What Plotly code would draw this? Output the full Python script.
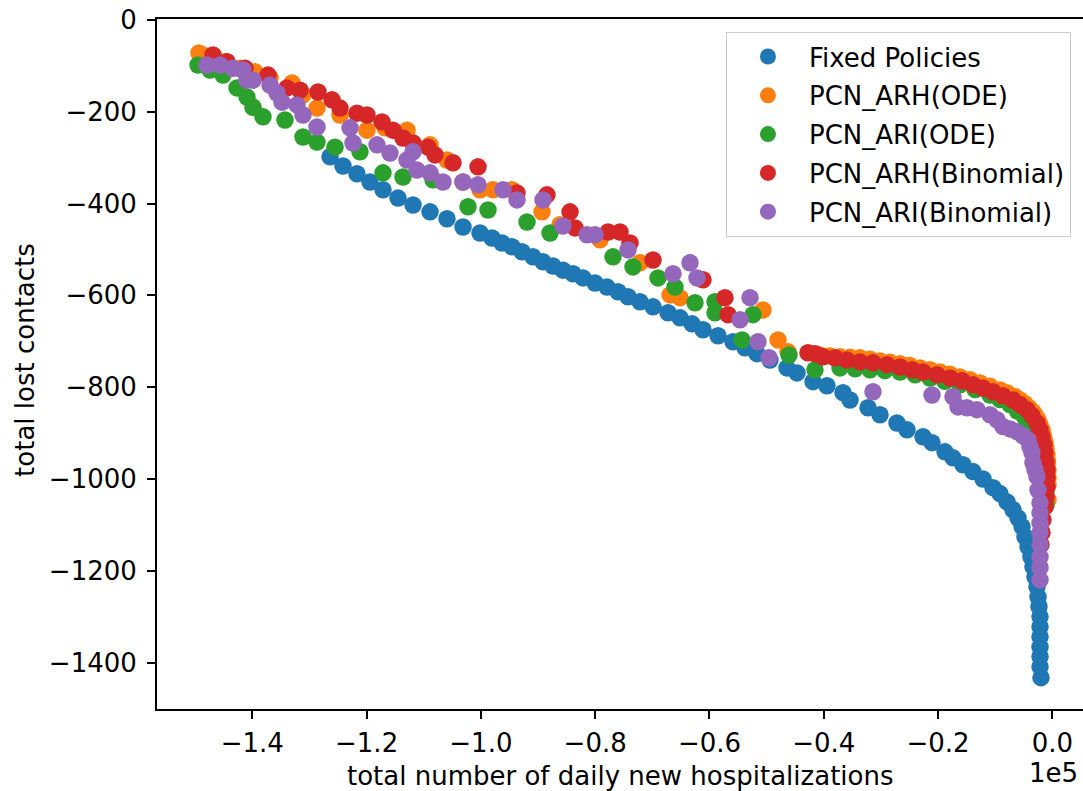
import plotly.graph_objects as go

# ---------------- data (x: total number of daily new hospitalizations, y: total lost contacts)
fixed_x = [-126400, -124130, -121680, -119400, -117130, -114500, -111880, -108900, -105930, -103130,
           -100150, -98050, -96300, -94550, -92800, -90880, -89130, -87380, -85630, -83880,
           -82130, -80030, -77930, -76000, -74250, -72150, -69880, -67250, -65150, -63050,
           -61130, -58500, -55880, -53780, -51680, -49400, -46430, -44680, -41880, -39430,
           -36630, -35400, -32250, -30150, -27180, -25430, -22630, -21050, -18780, -17380,
           -15630, -13880, -12130, -10380, -9150, -7930, -6880, -6000, -5300, -4780,
           -4250, -3730, -3380, -3030, -2680, -2500, -2330, -2150, -2150, -2150,
           -2150, -2150, -2150, -1980]
fixed_y = [-298, -318, -335, -353, -370, -388, -403, -418, -433, -451,
           -464, -475, -486, -494, -505, -516, -527, -536, -545, -553,
           -562, -573, -582, -592, -603, -614, -625, -638, -649, -662,
           -675, -688, -701, -714, -727, -741, -758, -769, -788, -797,
           -812, -828, -845, -860, -878, -893, -908, -921, -941, -954,
           -969, -984, -1000, -1019, -1032, -1050, -1067, -1085, -1104, -1126,
           -1148, -1170, -1191, -1213, -1235, -1257, -1278, -1300, -1322, -1344,
           -1366, -1387, -1409, -1433]

arh_ode_x = [-149330, -148280, -146880, -144780, -142150, -139530, -136900, -133050, -131130, -128680,
             -124650, -119930, -116780, -112930, -108900, -105930, -103130, -100150, -97880, -94550,
             -89300, -86150, -79150, -72150, -66900, -65150, -50630, -48000, -46250,
             -40650, -38900, -37150, -35400, -33650, -31900, -30150, -28400, -26650, -24900,
             -23150, -21400, -19650, -17900, -16150, -14400, -12650, -10900, -9150, -7840,
             -6530, -5650, -4780, -4080, -3380, -2940, -2500, -2150, -1800, -1540,
             -1280, -1100, -930, -840, -750, -750, -750, -750]
arh_ode_y = [-72, -78, -83, -91, -105, -113, -126, -137, -163, -192,
             -207, -240, -235, -240, -272, -305, -353, -370, -370, -370,
             -418, -446, -479, -529, -599, -605, -632, -697, -723,
             -730, -732, -734, -735, -736, -739, -743, -746, -749, -753,
             -758, -762, -767, -772, -778, -784, -791, -798, -806, -813,
             -821, -828, -836, -845, -854, -862, -871, -882, -893, -906,
             -919, -933, -947, -963, -980, -997, -1013, -1046]

ari_ode_x = [-149500, -147400, -145130, -142680, -140930, -139880, -138130, -134280, -131130, -128680,
             -125530, -121150, -117130, -113630, -108380, -102250, -98750, -91930, -87900, -76880,
             -73380, -69000, -66030, -62530, -59030, -59030, -54300, -52380, -46080, -41530,
             -37150, -34500, -31900, -29300, -26650, -24000, -21400, -18800, -16150, -13500,
             -10900, -9150, -7400, -6100, -4780, -3900, -3030, -2600, -2150, -1900,
             -1630, -1450, -1280, -1100, -1100]
ari_ode_y = [-98, -109, -120, -148, -168, -190, -211, -218, -255, -266,
             -277, -287, -333, -342, -348, -407, -414, -440, -464, -516,
             -538, -562, -582, -616, -614, -638, -697, -642, -730, -762,
             -758, -760, -762, -764, -767, -773, -780, -787, -795, -805,
             -817, -827, -838, -852, -867, -882, -897, -913, -930, -946,
             -963, -979, -995, -1028, -1056]

arh_bin_x = [-146880, -144430, -141280, -137250, -133930, -131650, -128500, -126050, -124650, -121680,
             -119930, -117300, -115380, -113630, -111880, -109250, -108030, -104880, -100500, -93680,
             -88430, -84400, -83530, -77750, -75650, -73900, -69880, -61130, -57280, -56750,
             -42760, -41530, -40130, -38030, -35930, -33650, -31380, -28930, -26650, -24550,
             -22630, -20180, -17900, -15800, -13880, -12130, -10380, -8630, -6880, -5650,
             -4430, -3550, -2680, -2150, -1800, -1450, -1280, -1100, -930, -930,
             -930, -1100, -1280, -1630, -1800, -1980]
arh_bin_y = [-76, -91, -105, -120, -148, -153, -157, -174, -192, -203,
             -207, -222, -240, -257, -268, -277, -294, -311, -320, -377,
             -381, -418, -453, -462, -462, -486, -523, -566, -605, -642,
             -725, -727, -734, -736, -741, -745, -747, -751, -756, -762,
             -767, -773, -780, -786, -795, -802, -810, -819, -828, -838,
             -849, -862, -878, -893, -908, -926, -943, -963, -980, -997,
             -1017, -1039, -1061, -1089, -1117, -1143]

ari_bin_x = [-147930, -145650, -143380, -141630, -140930, -139880, -136900, -135680, -134800, -132180,
             -131130, -128680, -122900, -122380, -118180, -115900, -112930, -111880, -111180, -108900,
             -106630, -103130, -100500, -96130, -93680, -89130, -85630, -81430, -80030, -74250,
             -66380, -63400, -62180, -54650, -52900, -51500, -49580,
             -31380, -21050, -17380, -16500, -14930, -13180, -10900, -9680, -8630, -7400,
             -6180, -5130, -4250, -3900, -3550, -3380, -3030, -2680, -2500, -2150,
             -2150, -2150, -2150, -2150, -2150, -2150, -2150]
ari_bin_y = [-98, -98, -105, -109, -131, -131, -142, -159, -179, -185,
             -207, -233, -235, -268, -272, -290, -305, -287, -327, -333,
             -353, -353, -359, -370, -392, -392, -449, -468, -468, -501,
             -553, -529, -562, -653, -605, -701, -736,
             -810, -817, -821, -843, -845, -849, -860, -871, -886, -891,
             -897, -906, -915, -930, -943, -965, -980, -995, -1024, -1052,
             -1074, -1096, -1117, -1143, -1170, -1193, -1220]

series_names = ["Fixed Policies", "PCN_ARH(ODE)", "PCN_ARI(ODE)", "PCN_ARH(Binomial)", "PCN_ARI(Binomial)"]
series_x = [fixed_x, arh_ode_x, ari_ode_x, arh_bin_x, ari_bin_x]
series_y = [fixed_y, arh_ode_y, ari_ode_y, arh_bin_y, ari_bin_y]
series_colors = ["#1f77b4", "#ff7f0e", "#2ca02c", "#d62728", "#9467bd"]

x_tickvals = [-140000, -120000, -100000, -80000, -60000, -40000, -20000, 0]
x_ticktext = ["\u22121.4", "\u22121.2", "\u22121.0", "\u22120.8", "\u22120.6", "\u22120.4", "\u22120.2", "0.0"]
y_tickvals = [0, -200, -400, -600, -800, -1000, -1200, -1400]
y_ticktext = ["0", "\u2212200", "\u2212400", "\u2212600", "\u2212800", "\u22121000", "\u22121200", "\u22121400"]

FONT = "DejaVu Sans"
FS = 26

fig = go.Figure()
for name, xs, ys, col in zip(series_names, series_x, series_y, series_colors):
    fig.add_trace(go.Scatter(
        x=xs, y=ys, mode="markers", name=name, legendgroup=name,
        marker=dict(color=col, size=17.5, line=dict(width=0)),
    ))

axis_common = dict(
    showgrid=False, zeroline=False, showline=True, linecolor="black", linewidth=2,
    ticks="outside", ticklen=8, tickwidth=2, tickcolor="black",
    tickfont=dict(family=FONT, size=FS, color="black"),
)
fig.update_xaxes(range=[-156680, 5373], tickmode="array", tickvals=x_tickvals, ticktext=x_ticktext,
                 mirror=True, ticklabelstandoff=2, **axis_common)
fig.update_yaxes(range=[-1501.3, 2.2], tickmode="array", tickvals=y_tickvals, ticktext=y_ticktext,
                 ticklabelstandoff=5, **axis_common)

fig.update_layout(
    width=1083, height=791,
    margin=dict(l=157, r=0, t=19, b=82, pad=0),
    paper_bgcolor="white", plot_bgcolor="white",
    font=dict(family=FONT, size=FS, color="black"),
    showlegend=True,
    legend=dict(
        x=0.987, y=0.981, xanchor="right", yanchor="top",
        bgcolor="rgba(255,255,255,0.8)", bordercolor="#cccccc", borderwidth=1,
        font=dict(family=FONT, size=FS, color="black"),
        tracegroupgap=2, itemwidth=72,
    ),
    annotations=[
        dict(text="total number of daily new hospitalizations", xref="paper", yref="paper",
             x=0.5, y=-0.0966, xanchor="center", yanchor="middle", showarrow=False,
             font=dict(family=FONT, size=FS, color="black")),
        dict(text="total lost contacts", xref="paper", yref="paper",
             x=-0.1425, y=0.506, xanchor="center", yanchor="middle", textangle=-90, showarrow=False,
             font=dict(family=FONT, size=FS, color="black")),
        dict(text="1e5", xref="paper", yref="paper",
             x=0.9968, y=-0.0923, xanchor="right", yanchor="middle", showarrow=False,
             font=dict(family=FONT, size=FS, color="black")),
    ],
)

fig.write_html("out.html")
